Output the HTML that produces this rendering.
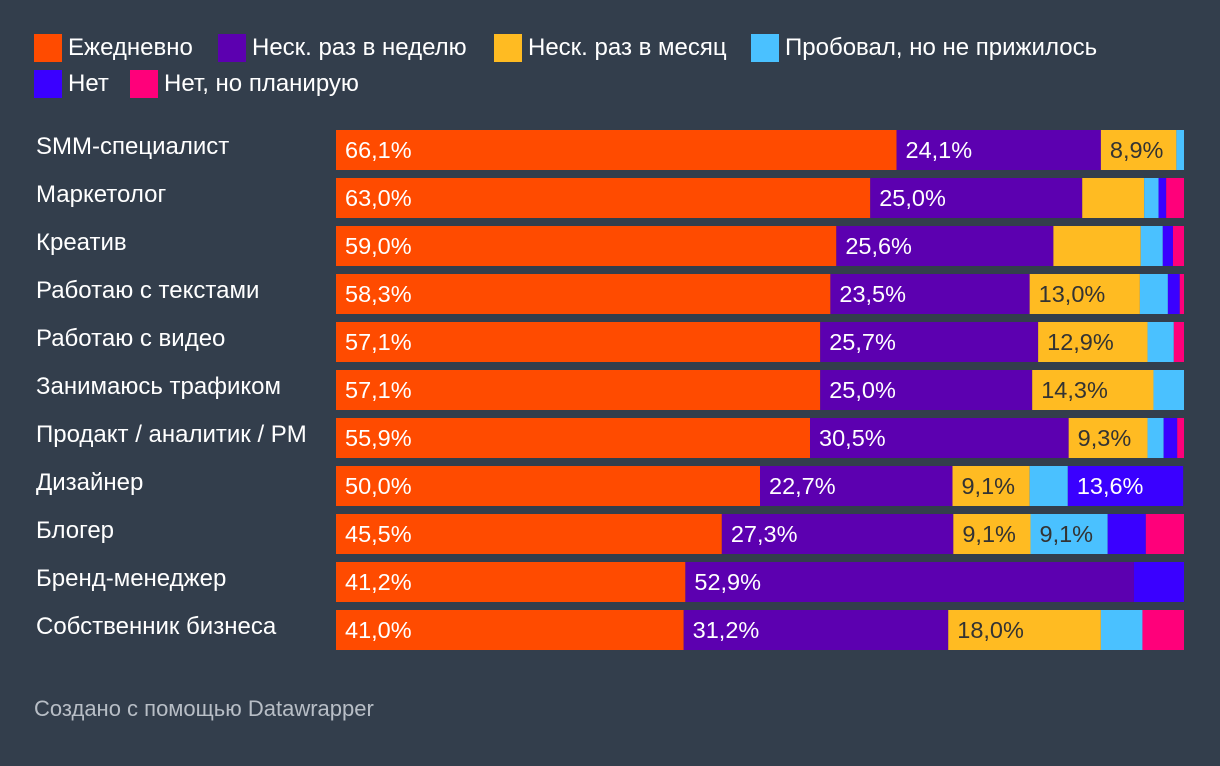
<!DOCTYPE html>
<html><head><meta charset="utf-8"><style>
body{margin:0;width:1220px;height:766px;background:#333e4c;font-family:"Liberation Sans",sans-serif;overflow:hidden;position:relative}
.leg{position:absolute;display:flex;align-items:center;color:#fff;font-size:24px;white-space:nowrap}
.sw{width:28px;height:28px;margin-right:6px;flex:none}
.lbl{position:absolute;left:36px;color:#fff;font-size:24px;white-space:nowrap}
.foot{position:absolute;left:34px;top:696px;color:#b8bec6;font-size:22px}
</style></head><body>
<div id="legend"></div>
<svg id="chart" width="1220" height="766" style="position:absolute;left:0;top:0"></svg>
<div class="foot">Создано с помощью Datawrapper</div>
<script>
const categories=["SMM-специалист","Маркетолог","Креатив","Работаю с текстами","Работаю с видео","Занимаюсь трафиком","Продакт / аналитик / PM","Дизайнер","Блогер","Бренд-менеджер","Собственник бизнеса"];
const seriesNames=["Ежедневно","Неск. раз в неделю","Неск. раз в месяц","Пробовал, но не прижилось","Нет","Нет, но планирую"];
const daily=[66.1,63.0,59.0,58.3,57.1,57.1,55.9,50.0,45.5,41.2,41.0];
const weekly=[24.1,25.0,25.6,23.5,25.7,25.0,30.5,22.7,27.3,52.9,31.2];
const monthly=[8.9,7.3,10.3,13.0,12.9,14.3,9.3,9.1,9.1,0,18.0];
const tried=[0.9,1.7,2.6,3.3,3.1,3.6,1.9,4.5,9.1,0,4.9];
const no=[0,0.9,1.2,1.4,0,0,1.6,13.6,4.5,5.9,0];
const planning=[0,2.1,1.3,0.5,1.2,0,0.8,0,4.5,0,4.9];
const showDaily=[1,1,1,1,1,1,1,1,1,1,1];
const showWeekly=[1,1,1,1,1,1,1,1,1,1,1];
const showMonthly=[1,0,0,1,1,1,1,1,1,0,1];
const showTried=[0,0,0,0,0,0,0,0,1,0,0];
const showNo=[0,0,0,0,0,0,0,1,0,0,0];
const showPlanning=[0,0,0,0,0,0,0,0,0,0,0];
const series=[daily,weekly,monthly,tried,no,planning];
const shows=[showDaily,showWeekly,showMonthly,showTried,showNo,showPlanning];
const colors=["#ff4b00","#5c00b0","#ffbb22","#4ac1ff","#3a00ff","#ff007a"];
const textColors=["#fff","#fff","#333","#333","#fff","#fff"];
const X0=336,W=848,Y0=130,BH=40,PITCH=48;
const x=v=>X0+v/100*W;
const y=i=>Y0+i*PITCH;
const NS="http://www.w3.org/2000/svg";
const svg=document.getElementById('chart');
const leg=document.getElementById('legend');
const legPos=[[34,48],[218,48],[494,48],[751,48],[34,84],[130,84]];
seriesNames.forEach((n,k)=>{
  const d=document.createElement('div');d.className='leg';
  d.style.left=legPos[k][0]+'px';d.style.top=(legPos[k][1]-14)+'px';
  
  
  d.innerHTML='<div class="sw" style="background:'+colors[k]+'"></div>'+n;
  leg.appendChild(d);
});
categories.forEach((c,i)=>{
  const l=document.createElement('div');l.className='lbl';
  l.style.top=(y(i)+3)+'px';l.textContent=c;
  
  
  document.body.appendChild(l);
  let cum=0;
  series.forEach((s,k)=>{
    const v=s[i];
    if(v>0){
      const r=document.createElementNS(NS,'rect');
      r.setAttribute('x',x(cum));r.setAttribute('y',y(i));
      r.setAttribute('width',x(cum+v)-x(cum));r.setAttribute('height',BH);
      r.setAttribute('fill',colors[k]);
      
      
      svg.appendChild(r);
      if(shows[k][i]){
        const t=document.createElementNS(NS,'text');
        t.setAttribute('x',x(cum)+9);t.setAttribute('y',y(i)+28);
        t.setAttribute('fill',textColors[k]);t.setAttribute('font-size','23.5');
        t.setAttribute('font-family','Liberation Sans, sans-serif');
        t.textContent=v.toFixed(1).replace('.',',')+'%';
        
        
        svg.appendChild(t);
      }
    }
    cum+=v;
  });
});
</script>
</body></html>
